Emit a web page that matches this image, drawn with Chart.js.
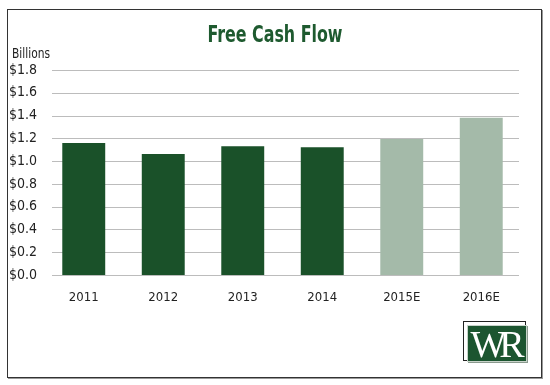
<!DOCTYPE html>
<html>
<head>
<meta charset="utf-8">
<script src="https://cdn.jsdelivr.net/npm/chart.js@4.4.1/dist/chart.umd.min.js"></script>
<style>
  body { margin: 0; background: #fff; }
  #wrap { position: relative; width: 550px; height: 385px; }
  #frame {
    position: absolute; left: 7px; top: 9px; width: 533px; height: 367px;
    border: 1px solid #333; box-shadow: 1px 1px 0 #999;
  }
  #chart { position: absolute; left: 0; top: 0; }
  #logo {
    position: absolute; left: 463px; top: 321px; width: 61px; height: 38px;
    border: 1px solid #222;
  }
  #logo div {
    position: absolute; left: 3px; top: 3px; width: 60px; height: 37px;
    background: #1c5530; border: 1px solid #c8d3ca; box-sizing: border-box;
    box-shadow: 1px 1px 0 #8a9a8e;
    color: #fff; font: 38px "Liberation Serif", serif; letter-spacing: -7px;
    text-align: center; line-height: 37px; padding-right: 6px; overflow: hidden;
  }
</style>
</head>
<body>
<div id="wrap">
  <div id="frame"></div>
  <canvas id="chart" width="550" height="385"></canvas>
  <div id="logo"><div>WR</div></div>
</div>
<script>
const years = ['2011', '2012', '2013', '2014', '2015E', '2016E'];
const cashFlow = [1.16, 1.063, 1.13, 1.122, 1.195, 1.38];
const barColors = ['#1a5129', '#1a5129', '#1a5129', '#1a5129', '#a4baa9', '#a4baa9'];
const yTicks = [0, 0.2, 0.4, 0.6, 0.8, 1.0, 1.2, 1.4, 1.6, 1.8];

const narrow = '"DejaVu Sans Condensed", "Liberation Sans", sans-serif';

// squeeze a line of text to a given width (the original uses a condensed face)
function squeezedText(ctx, text, x, y, width, align) {
    const w = ctx.measureText(text).width;
    const k = Math.min(1, width / w);
    ctx.save();
    ctx.translate(x, y);
    ctx.scale(k, 1);
    ctx.textAlign = align;
    ctx.fillText(text, 0, 0);
    ctx.restore();
}

// title, unit label and the shorter gridlines
const decor = {
    id: 'decor',
    beforeDatasetsDraw(chart) {
        const ctx = chart.ctx;
        const y = chart.scales.y;
        ctx.save();
        ctx.strokeStyle = '#bcbcbc';
        ctx.lineWidth = 1;
        yTicks.forEach(v => {
            const py = Math.round(y.getPixelForValue(v)) + 0.5;
            ctx.beginPath();
            ctx.moveTo(52, py);
            ctx.lineTo(519, py);
            ctx.stroke();
        });
        ctx.restore();
    },
    afterDraw(chart) {
        const ctx = chart.ctx;
        ctx.save();
        ctx.textBaseline = 'alphabetic';
        ctx.fillStyle = '#1e5a2f';
        ctx.font = 'bold 23px ' + narrow;
        squeezedText(ctx, 'Free Cash Flow', 275, 41.5, 135, 'center');
        ctx.fillStyle = '#222';
        ctx.font = '14px ' + narrow;
        squeezedText(ctx, 'Billions', 12, 57.5, 38, 'left');
        ctx.restore();
    }
};

new Chart(document.getElementById('chart').getContext('2d'), {
    type: 'bar',
    data: {
        labels: years,
        datasets: [{
            data: cashFlow,
            backgroundColor: barColors,
            borderWidth: 0,
            barPercentage: 0.54,
            categoryPercentage: 1
        }]
    },
    options: {
        responsive: false,
        animation: false,
        layout: { padding: { left: 0, right: 29, top: 70, bottom: 0 } },
        plugins: {
            legend: { display: false },
            tooltip: { enabled: false }
        },
        scales: {
            y: {
                min: 0,
                max: 1.8,
                afterFit: s => { s.width = 44; },
                afterBuildTicks: s => { s.ticks = yTicks.map(v => ({ value: v })); },
                ticks: {
                    padding: 7,
                    color: '#222',
                    font: { family: narrow, size: 14 },
                    callback: v => '$' + v.toFixed(1)
                },
                grid: { display: false, drawTicks: false },
                border: { display: false }
            },
            x: {
                afterFit: s => { s.height = 110; },
                ticks: {
                    padding: 15,
                    color: '#222',
                    font: { family: narrow, size: 13 }
                },
                grid: { display: false, drawTicks: false },
                border: { display: false }
            }
        }
    },
    plugins: [decor]
});
</script>
</body>
</html>
